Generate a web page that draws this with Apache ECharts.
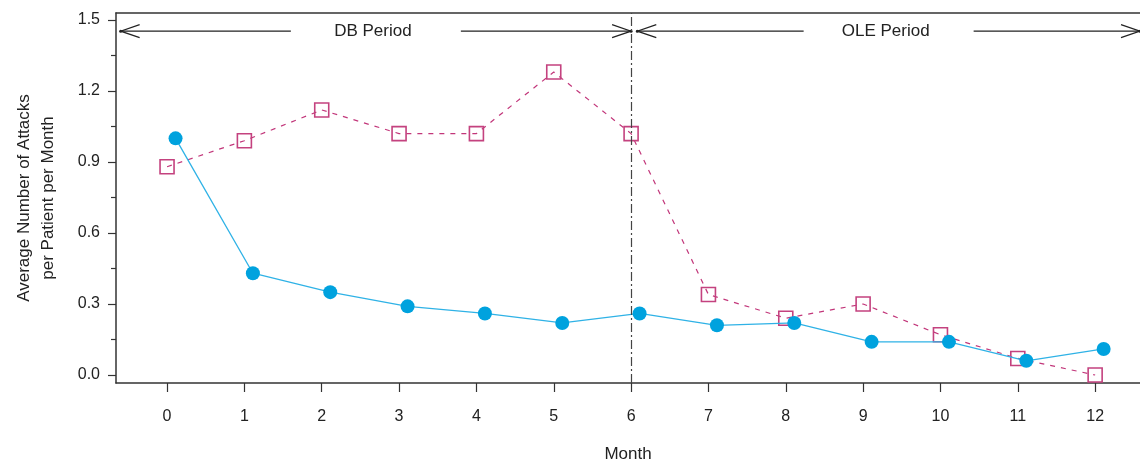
<!DOCTYPE html>
<html>
<head>
<meta charset="utf-8">
<script src="https://cdn.jsdelivr.net/npm/echarts@6/dist/echarts.min.js"></script>
<style>
  html, body { margin: 0; padding: 0; background: #fff; }
  #chart { width: 1140px; height: 462px; }
</style>
</head>
<body>
<div id="chart"></div>
<script>
// Months on the x axis
const months = [0, 1, 2, 3, 4, 5, 6, 7, 8, 9, 10, 11, 12];

// Average number of attacks per patient per month
const squareGroup = [0.88, 0.99, 1.12, 1.02, 1.02, 1.28, 1.02, 0.34, 0.24, 0.30, 0.17, 0.07, 0.00];
const circleGroup = [1.00, 0.43, 0.35, 0.29, 0.26, 0.22, 0.26, 0.21, 0.22, 0.14, 0.14, 0.06, 0.11];

// Tick labels
const xTickValues = months;
const yMajorTicks = [0, 0.3, 0.6, 0.9, 1.2, 1.5];
const yMinorTicks = [0.15, 0.45, 0.75, 1.05, 1.35];

// Study periods (start month, end month) and their boundary
const periodNames = ['DB Period', 'OLE Period'];
const periodStart = [-0.6, 6.08];
const periodEnd = [6, 12.58];
const periodBoundary = 6;
const periodArrowLevel = 1.453;

const FONT = '"Liberation Sans", Arial, Helvetica, sans-serif';
const TEXT = '#222';
const AXIS = '#333';
const CIRCLE_DODGE = 0.11;

const chart = echarts.init(document.getElementById('chart'), null, { renderer: 'canvas' });

function renderPeriod(params, api) {
  const s = api.coord([api.value(0), api.value(2)]);
  const e = api.coord([api.value(1), api.value(2)]);
  const y = s[1];
  const mid = (s[0] + e[0]) / 2;
  const gap = 85, headL = 19, headW = 6.5;
  const st = { stroke: TEXT, lineWidth: 1.2, fill: null };
  return {
    type: 'group',
    children: [
      { type: 'line', shape: { x1: s[0], y1: y, x2: mid - gap, y2: y }, style: st },
      { type: 'line', shape: { x1: mid + gap, y1: y, x2: e[0], y2: y }, style: st },
      { type: 'polyline', shape: { points: [[s[0] + headL, y - headW], [s[0], y], [s[0] + headL, y + headW]] }, style: st },
      { type: 'polyline', shape: { points: [[e[0] - headL, y - headW], [e[0], y], [e[0] - headL, y + headW]] }, style: st },
      { type: 'circle', shape: { cx: s[0], cy: y, r: 1.5 }, style: { fill: TEXT } },
      { type: 'circle', shape: { cx: e[0], cy: y, r: 1.5 }, style: { fill: TEXT } },
      {
        type: 'text', x: mid - 3, y: y,
        style: {
          text: periodNames[params.dataIndex], fontSize: 17, fontFamily: FONT,
          fill: TEXT, align: 'center', verticalAlign: 'middle'
        }
      }
    ]
  };
}

const option = {
  animation: false,
  backgroundColor: '#fff',
  grid: { left: 116, right: 0, top: 13, bottom: 79, containLabel: false, outerBoundsMode: 'none' },
  xAxis: [
    {
      type: 'value', min: -0.66, max: 12.58, position: 'bottom',
      name: 'Month', nameLocation: 'middle', nameGap: 63,
      nameTextStyle: { fontSize: 17, fontFamily: FONT, color: TEXT },
      axisLine: { show: true, onZero: false, lineStyle: { color: AXIS, width: 1.5 } },
      axisTick: { show: true, customValues: xTickValues, length: 9, lineStyle: { color: AXIS, width: 1.2 } },
      axisLabel: { show: true, customValues: xTickValues, margin: 26, fontSize: 16, fontFamily: FONT, color: TEXT,
                   formatter: v => String(Math.round(v)) },
      splitLine: { show: false }
    },
    {
      type: 'value', min: -0.66, max: 12.58, position: 'top',
      axisLine: { show: true, onZero: false, lineStyle: { color: AXIS, width: 1.5 } },
      axisTick: { show: false }, axisLabel: { show: false }, splitLine: { show: false }
    }
  ],
  yAxis: [
    {
      type: 'value', min: -0.0338, max: 1.5296, position: 'left',
      name: 'Average Number of Attacks\nper Patient per Month',
      nameLocation: 'middle', nameGap: 56,
      nameTextStyle: { fontSize: 17, lineHeight: 24, fontFamily: FONT, color: TEXT, align: 'center' },
      axisLine: { show: true, onZero: false, lineStyle: { color: AXIS, width: 1.5 } },
      axisTick: { show: true, customValues: yMajorTicks, length: 8, lineStyle: { color: AXIS, width: 1.2 } },
      axisLabel: { show: true, customValues: yMajorTicks, margin: 16, fontSize: 16, fontFamily: FONT, color: TEXT,
                   formatter: v => v.toFixed(1) },
      splitLine: { show: false }
    },
    {
      type: 'value', min: -0.0338, max: 1.5296, position: 'left',
      axisLine: { show: false, onZero: false },
      axisTick: { show: true, customValues: yMinorTicks, length: 5, lineStyle: { color: AXIS, width: 1.2 } },
      axisLabel: { show: false }, splitLine: { show: false }
    }
  ],
  series: [
    {
      type: 'custom',
      xAxisIndex: 0, yAxisIndex: 0,
      renderItem: renderPeriod,
      clip: false,
      silent: true,
      data: periodNames.map((n, i) => [periodStart[i], periodEnd[i], periodArrowLevel]),
      markLine: {
        silent: true, symbol: 'none', label: { show: false },
        lineStyle: { color: '#444', width: 1.2, type: [9, 3, 2, 3] },
        data: [{ xAxis: periodBoundary }]
      },
      z: 1
    },
    {
      name: 'squares',
      type: 'line',
      xAxisIndex: 0, yAxisIndex: 0,
      data: months.map((m, i) => [m, squareGroup[i]]),
      symbol: 'rect', symbolSize: 14,
      lineStyle: { color: '#c2367a', width: 1.2, type: [5, 6] },
      itemStyle: { color: 'rgba(0,0,0,0)', borderColor: '#c4427f', borderWidth: 1.6 },
      clip: false,
      z: 3
    },
    {
      name: 'circles',
      type: 'line',
      xAxisIndex: 0, yAxisIndex: 0,
      data: months.map((m, i) => [m + CIRCLE_DODGE, circleGroup[i]]),
      symbol: 'circle', symbolSize: 14,
      lineStyle: { color: '#2fb2e6', width: 1.3 },
      itemStyle: { color: '#00a2de', borderWidth: 0 },
      clip: false,
      z: 4
    }
  ]
};

chart.setOption(option);
</script>
</body>
</html>
